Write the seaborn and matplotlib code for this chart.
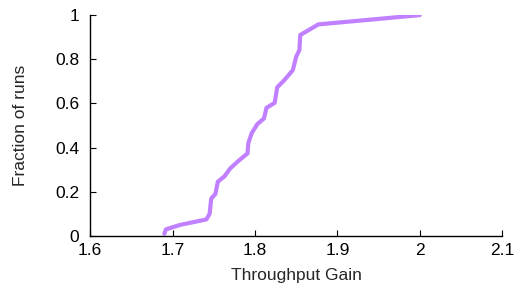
import numpy as np
import pandas as pd
import matplotlib
matplotlib.use("Agg")
import matplotlib.pyplot as plt
import seaborn as sns

# CDF points
gain = [1.690, 1.692, 1.709, 1.741, 1.745, 1.747, 1.752, 1.755, 1.763, 1.770,
        1.780, 1.791, 1.792, 1.796, 1.803, 1.811, 1.814, 1.824, 1.827, 1.835,
        1.846, 1.850, 1.854, 1.855, 1.877, 2.000]
frac = [0.010, 0.030, 0.050, 0.075, 0.100, 0.170, 0.190, 0.246, 0.270, 0.306,
        0.340, 0.374, 0.420, 0.465, 0.507, 0.532, 0.580, 0.603, 0.673, 0.703,
        0.751, 0.811, 0.842, 0.910, 0.958, 1.000]

x_ticks = [1.6, 1.7, 1.8, 1.9, 2.0, 2.1]
x_labels = ["1.6", "1.7", "1.8", "1.9", "2", "2.1"]
y_ticks = [0, 0.2, 0.4, 0.6, 0.8, 1.0]
y_labels = ["0", "0.2", "0.4", "0.6", "0.8", "1"]

df = pd.DataFrame({"gain": gain, "frac": frac})

sns.set_style("ticks")
plt.rcParams["font.family"] = ["Liberation Sans", "DejaVu Sans"]
plt.rcParams["xtick.direction"] = "in"
plt.rcParams["ytick.direction"] = "in"

fig, ax = plt.subplots(figsize=(5.15, 2.91), dpi=100)
fig.subplots_adjust(left=0.175, right=0.975, top=0.948, bottom=0.189)

sns.lineplot(data=df, x="gain", y="frac", ax=ax, color="#c080ff",
             linewidth=3, estimator=None, sort=False)

ax.set_xlim(1.6, 2.1)
ax.set_ylim(0, 1)
ax.set_xticks(x_ticks)
ax.set_xticklabels(x_labels, fontsize=12.5)
ax.set_yticks(y_ticks)
ax.set_yticklabels(y_labels, fontsize=12.5)
ax.tick_params(length=4, width=0.8, colors="black")
ax.tick_params(axis="y", pad=8)
ax.tick_params(axis="x", pad=5)
ax.set_xlabel("Throughput Gain", fontsize=12.5, labelpad=7)
ax.set_ylabel("Fraction of runs", fontsize=12.5, labelpad=19)
sns.despine(ax=ax)
for s in ["left", "bottom"]:
    ax.spines[s].set_color("black")
    ax.spines[s].set_linewidth(1)

fig.savefig("out.png", dpi=100)
